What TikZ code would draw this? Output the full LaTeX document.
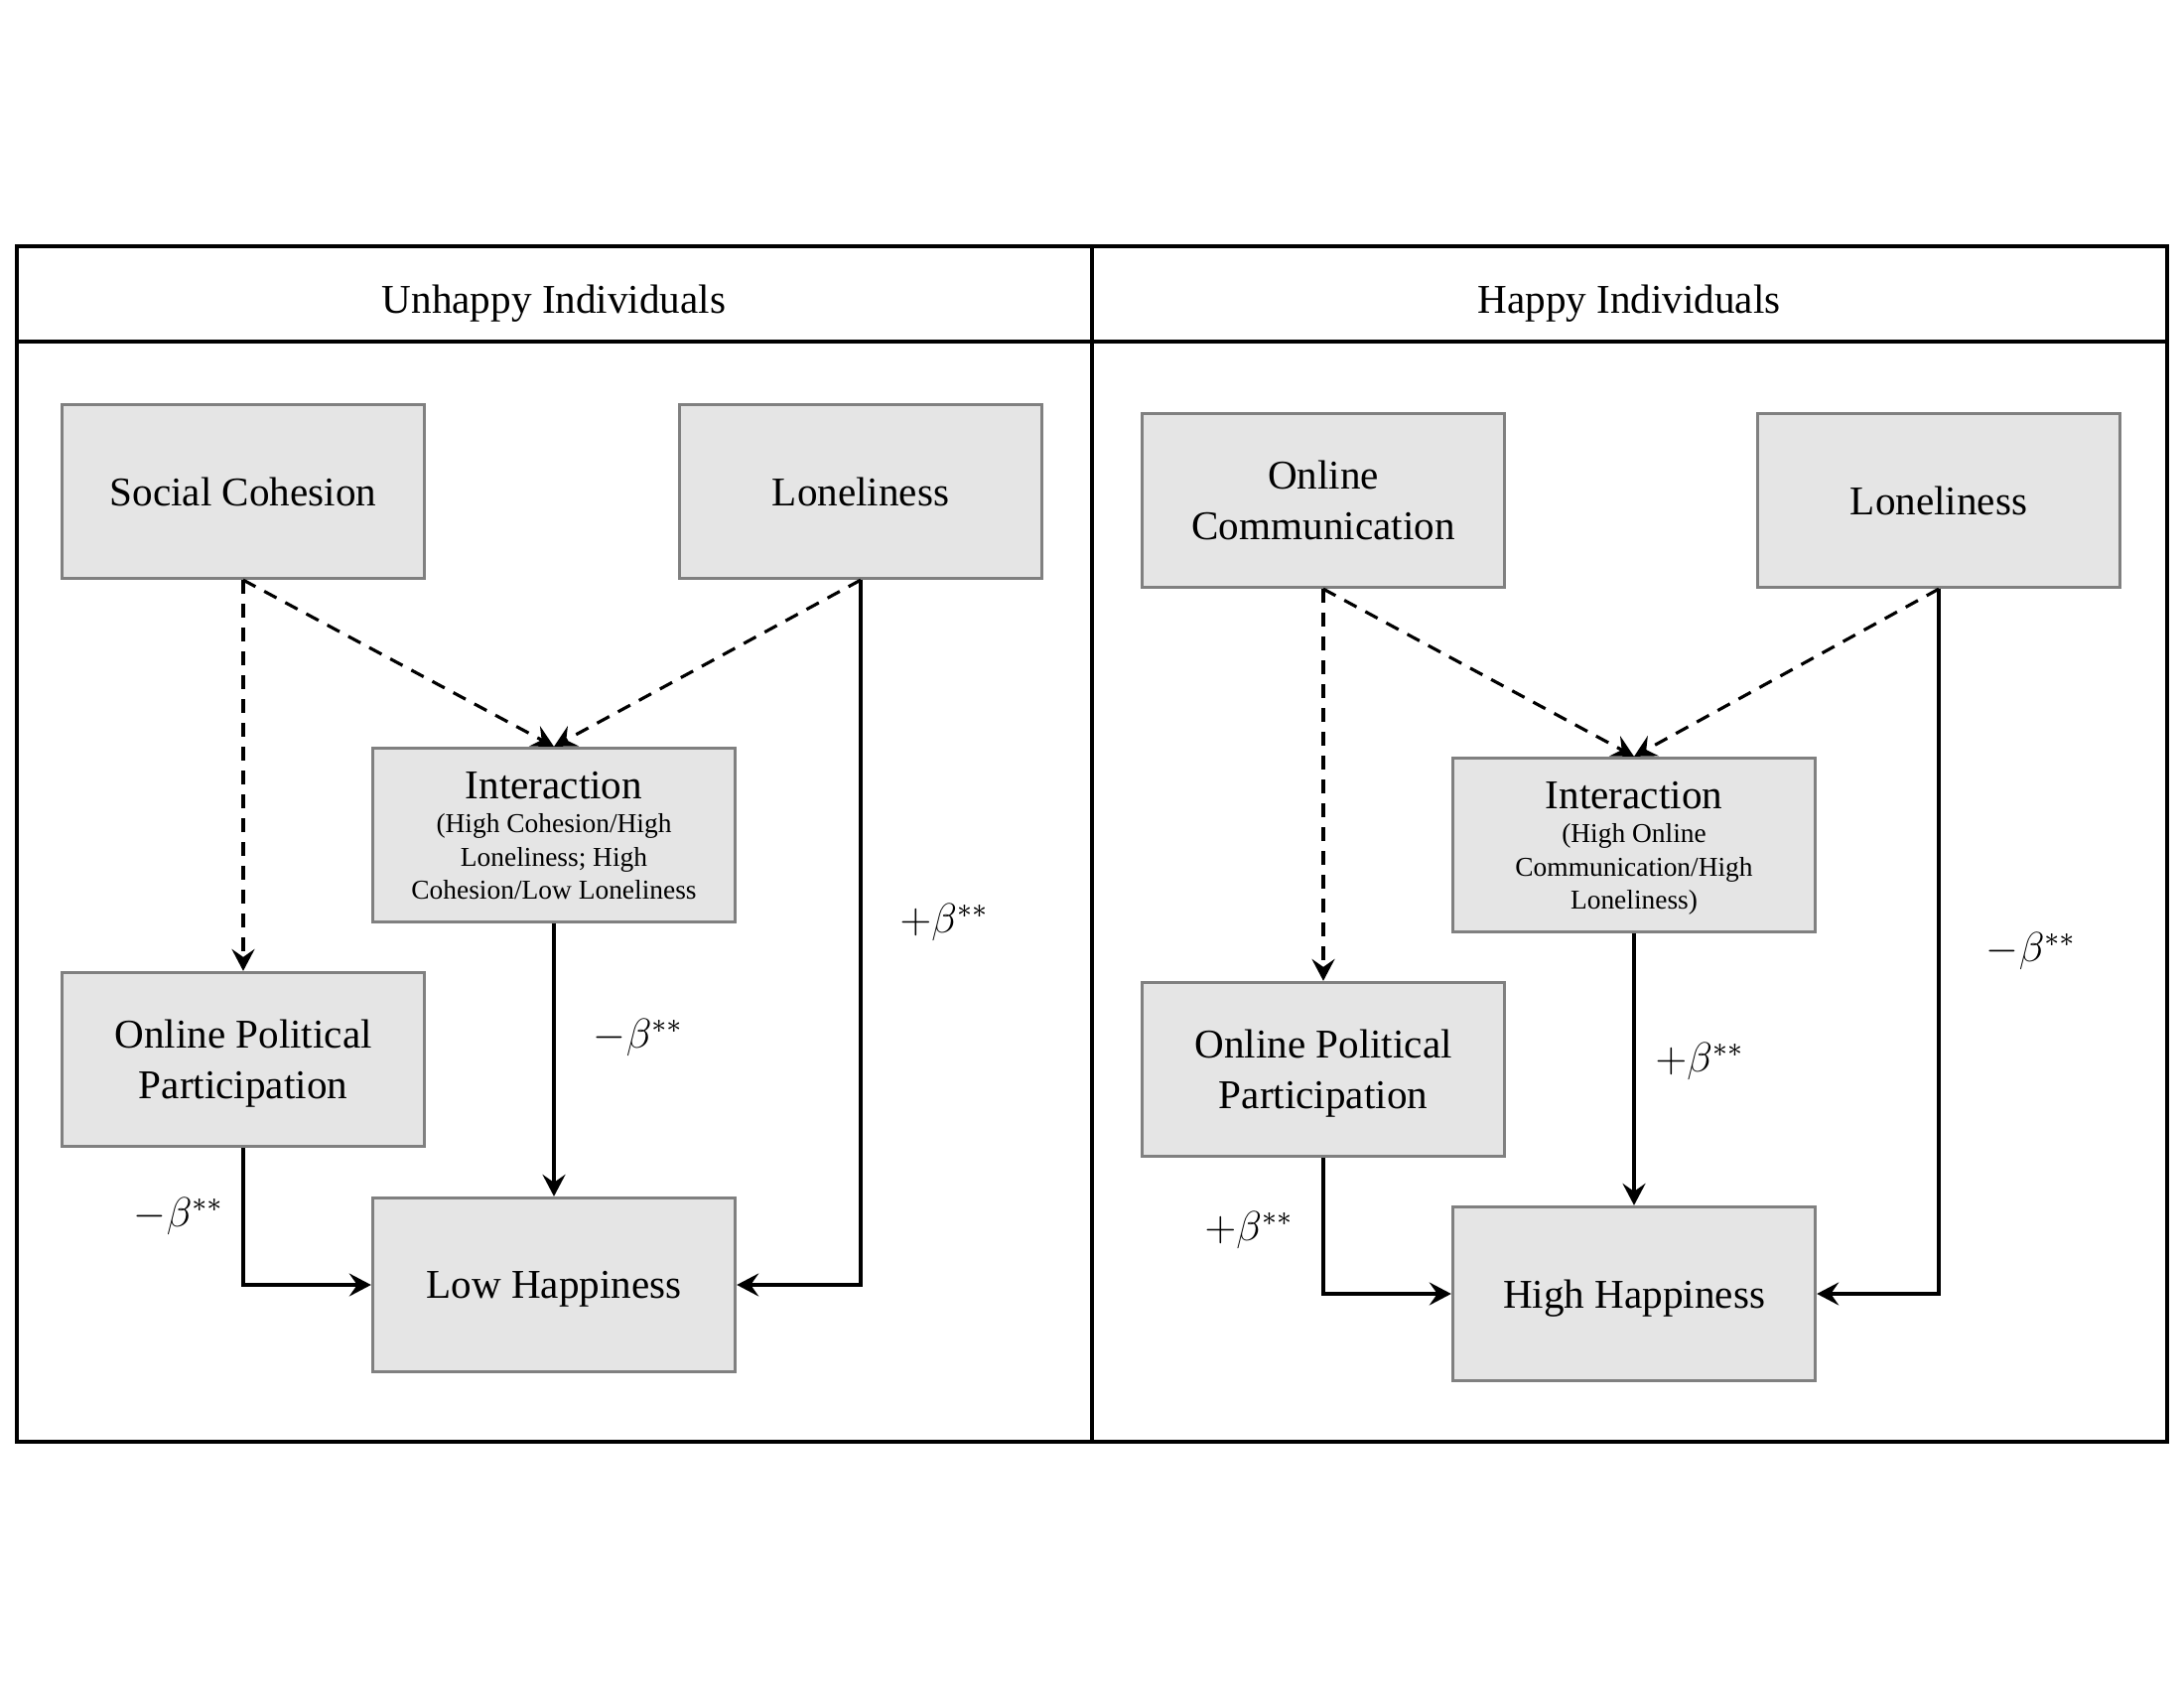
\documentclass[tikz,border=0pt]{standalone}
\usepackage{fontspec}
\setmainfont{Liberation Serif}
\usetikzlibrary{arrows.meta}
\tikzset{
  box/.style={draw=black!50, line width=0.9pt, fill=black!10, minimum width=3.65cm, minimum height=1.75cm, inner sep=0pt, align=center, text depth=0pt, font=\fontsize{11.7}{14.4}\selectfont},
  lbl/.style={font=\fontsize{11.7}{14.4}\selectfont, inner sep=0pt},
  conn/.style={line width=0.9pt, -{Stealth[length=2.2mm, width=2.3mm, inset=0.8mm]}},
  dconn/.style={conn, dash pattern=on 1.4mm off 1mm},
  frame/.style={line width=0.9pt}
}
\newcommand{\smalltxt}{\fontsize{7.8}{9.4}\selectfont}
\begin{document}
\begin{tikzpicture}[x=0.01cm, y=-0.01cm]
\useasboundingbox (0,0) rectangle (2200,1700);
% frame
\draw[frame] (17,248) rectangle (2183,1452);
\draw[frame] (17,344) -- (2183,344);
\draw[frame] (1100,248) -- (1100,1452);
\node[lbl, text depth=0pt] (h1) at (558,301) {Unhappy Individuals};
\node[lbl, text depth=0pt] (h2) at (1641,301) {Happy Individuals};
% left panel
\node[box] (sc) at (245,495) {Social Cohesion};
\node[box] (lon1) at (867,495) {Loneliness};
\node[box] (int1) at (558,841) {Interaction\\[-4.5pt]{\smalltxt (High Cohesion/High}\\[-5pt]{\smalltxt Loneliness; High}\\[-5pt]{\smalltxt Cohesion/Low Loneliness}};
\node[box] (opp1) at (245,1067) {Online Political\\Participation};
\node[box] (lh) at (558,1294) {Low Happiness};
\draw[dconn] (sc.south) -- (opp1.north);
\draw[dconn] (sc.south) -- (int1.north);
\draw[dconn] (lon1.south) -- (int1.north);
\draw[conn] (lon1.south) |- (lh.east);
\draw[conn] (int1.south) -- (lh.north);
\draw[conn] (opp1.south) |- (lh.west);
\node[lbl] (b1) at (951,929) {$+\beta^{**}$};
\node[lbl] (b2) at (643,1045) {$-\beta^{**}$};
\node[lbl] (b3) at (180,1225) {$-\beta^{**}$};
% right panel
\node[box] (oc) at (1333,504) {Online\\Communication};
\node[box] (lon2) at (1953,504) {Loneliness};
\node[box] (int2) at (1646,851) {Interaction\\[-4.5pt]{\smalltxt (High Online}\\[-5pt]{\smalltxt Communication/High}\\[-5pt]{\smalltxt Loneliness)}};
\node[box] (opp2) at (1333,1077) {Online Political\\Participation};
\node[box] (hh) at (1646,1303) {High Happiness};
\draw[dconn] (oc.south) -- (opp2.north);
\draw[dconn] (oc.south) -- (int2.north);
\draw[dconn] (lon2.south) -- (int2.north);
\draw[conn] (lon2.south) |- (hh.east);
\draw[conn] (int2.south) -- (hh.north);
\draw[conn] (opp2.south) |- (hh.west);
\node[lbl] (b4) at (2046,958) {$-\beta^{**}$};
\node[lbl] (b5) at (1712,1069) {$+\beta^{**}$};
\node[lbl] (b6) at (1258,1239) {$+\beta^{**}$};
\end{tikzpicture}
\end{document}
